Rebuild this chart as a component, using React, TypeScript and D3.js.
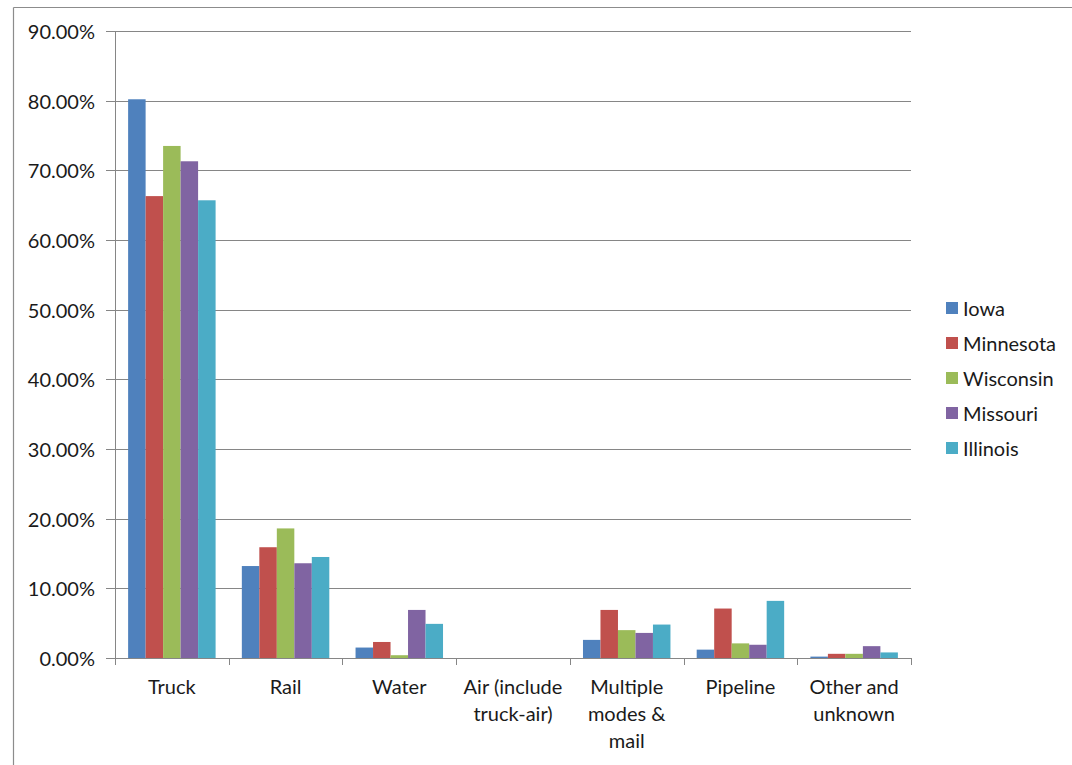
import React from "react";
import * as d3 from "d3";

const categories: string[][] = [
  ["Truck"],
  ["Rail"],
  ["Water"],
  ["Air (include", "truck-air)"],
  ["Multiple", "modes &", "mail"],
  ["Pipeline"],
  ["Other and", "unknown"],
];
const categoryKeys = ["Truck", "Rail", "Water", "Air", "Multiple", "Pipeline", "Other"];
const seriesNames = ["Iowa", "Minnesota", "Wisconsin", "Missouri", "Illinois"];
const seriesColors = ["#4F81BD", "#C0504D", "#9BBB59", "#8064A2", "#4BACC6"];

const iowa = [0.802, 0.132, 0.015, 0, 0.026, 0.012, 0.002];
const minnesota = [0.663, 0.159, 0.023, 0, 0.069, 0.071, 0.006];
const wisconsin = [0.735, 0.186, 0.004, 0, 0.040, 0.021, 0.006];
const missouri = [0.713, 0.136, 0.069, 0, 0.036, 0.019, 0.017];
const illinois = [0.657, 0.145, 0.049, 0, 0.048, 0.082, 0.008];
const seriesValues = [iowa, minnesota, wisconsin, missouri, illinois];

const yTicks = [0, 0.1, 0.2, 0.3, 0.4, 0.5, 0.6, 0.7, 0.8, 0.9];

const FONT = "Lato, 'Open Sans', sans-serif";

export default function App() {
  const width = 1072;
  const height = 765;
  const left = 115;
  const right = 911;
  const top = 31;
  const bottom = 658;

  const y = d3.scaleLinear().domain([0, 0.9]).range([bottom, top]);
  const x = d3.scaleBand<string>().domain(categoryKeys).range([left, right]).paddingInner(0).paddingOuter(0);
  const xs = d3
    .scaleBand<string>()
    .domain(seriesNames)
    .range([0, x.bandwidth()])
    .paddingInner(0)
    .paddingOuter(0.75);

  const fmt = (v: number) => (v * 100).toFixed(2) + "%";
  const grid = "#868686";
  const textColor = "#1a1a1a";

  return (
    <svg
      width={width}
      height={height}
      style={{ position: "absolute", left: 0, top: 0, background: "#fff" }}
      fontFamily={FONT}
    >
      <rect x={0} y={0} width={width} height={height} fill="#fff" />
      {/* outer border */}
      <line x1={13.5} y1={7.5} x2={width} y2={7.5} stroke="#8c8c8c" strokeWidth={1.2} />
      <line x1={13.5} y1={7.5} x2={13.5} y2={height} stroke="#8c8c8c" strokeWidth={1.2} />

      {/* gridlines */}
      {yTicks.map((t) => (
        <g key={t}>
          {t > 0 && (
            <line x1={left} x2={right} y1={Math.round(y(t)) + 0.5} y2={Math.round(y(t)) + 0.5} stroke={grid} strokeWidth={1} />
          )}
          <line x1={left - 9} x2={left} y1={Math.round(y(t)) + 0.5} y2={Math.round(y(t)) + 0.5} stroke={grid} strokeWidth={1} />
          <text
            x={95}
            y={y(t)}
            textAnchor="end"
            dominantBaseline="central"
            fontSize={20}
            fill={textColor}
          >
            {fmt(t)}
          </text>
        </g>
      ))}

      {/* bars */}
      {seriesNames.map((s, si) => (
        <g key={s} fill={seriesColors[si]}>
          {categoryKeys.map((c, ci) => {
            const v = seriesValues[si][ci];
            const x0 = (x(c) as number) + (xs(s) as number);
            return (
              <rect key={c} x={x0} y={y(v)} width={xs.bandwidth()} height={bottom - y(v)} />
            );
          })}
        </g>
      ))}

      {/* axes */}
      <line x1={left + 0.5} x2={left + 0.5} y1={top} y2={bottom + 7} stroke={grid} strokeWidth={1} />
      <line x1={left} x2={right} y1={bottom + 0.5} y2={bottom + 0.5} stroke={grid} strokeWidth={1} />
      {categoryKeys.concat(["end"]).map((c, i) => {
        const xx = Math.round(left + i * x.step()) + 0.5;
        return <line key={c} x1={xx} x2={xx} y1={bottom} y2={bottom + 7} stroke={grid} strokeWidth={1} />;
      })}
      {categoryKeys.map((c, ci) => (
        <text key={c} textAnchor="middle" fontSize={20} fill={textColor}>
          {categories[ci].map((line, li) => (
            <tspan key={li} x={(x(c) as number) + x.bandwidth() / 2} y={694 + li * 27}>
              {line}
            </tspan>
          ))}
        </text>
      ))}

      {/* legend */}
      {seriesNames.map((s, si) => (
        <g key={s} transform={`translate(946, ${302 + si * 35})`}>
          <rect x={0} y={0} width={12} height={12} fill={seriesColors[si]} />
          <text x={17} y={6} dominantBaseline="central" fontSize={20} fill={textColor}>
            {s}
          </text>
        </g>
      ))}
    </svg>
  );
}
